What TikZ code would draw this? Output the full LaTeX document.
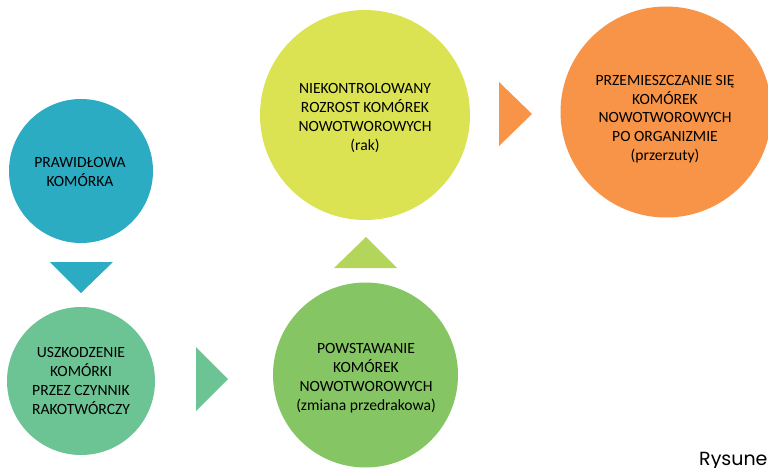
\documentclass[tikz,border=0pt]{standalone}
\usepackage{fontspec}
\setmainfont{Carlito}
\newfontfamily\rysfont{Poppins}
\usepackage{tikz}
\usetikzlibrary{positioning}
\definecolor{raTeal}{HTML}{2BACC2}
\definecolor{raMint}{HTML}{6CC494}
\definecolor{raLime}{HTML}{DCE352}
\definecolor{raOrange}{HTML}{F79447}
\definecolor{raGreen}{HTML}{85C563}
\definecolor{raLimeTri}{HTML}{B4D55B}

\begin{document}
\begin{tikzpicture}[x=1pt, y=-1pt,
  cell/.style={circle, inner sep=0pt},
  txt/.style={align=center, inner sep=0pt, font=\fontsize{15.6}{18.8}\selectfont}]
  \clip (0,0) rectangle (768,468);
  % kola
  \node[cell, fill=raTeal, minimum size=144pt] (prawid) at (81,171) {};
  \node[cell, fill=raMint, minimum size=148pt] (uszk) at (81,381) {};
  \node[cell, fill=raGreen, minimum size=185pt] (powst) at (365.5,375) {};
  \node[cell, fill=raLime, minimum size=210pt] (rak) at (365,115) {};
  \node[cell, fill=raOrange, minimum size=211pt] (przerz) at (666,112) {};
  % teksty
  \node[txt] (prawidT) at (80,172) {PRAWIDŁOWA\\KOMÓRKA};
  \node[txt] (uszkT) at (81,381) {USZKODZENIE\\KOMÓRKI\\PRZEZ CZYNNIK\\RAKOTWÓRCZY};
  \node[txt] (powstT) at (366,378) {POWSTAWANIE\\KOMÓREK\\NOWOTWOROWYCH\\(zmiana przedrakowa)};
  \node[txt] (rakT) at (365,118) {NIEKONTROLOWANY\\ROZROST KOMÓREK\\NOWOTWOROWYCH\\(rak)};
  \node[txt] (przerzT) at (665,119) {PRZEMIESZCZANIE SIĘ\\KOMÓREK\\NOWOTWOROWYCH\\PO ORGANIZMIE\\(przerzuty)};
  % strzalki
  \fill[raTeal] (50,262) -- (113,262) -- (81,293) -- cycle;
  \fill[raMint] (196,347) -- (196,411) -- (228,379) -- cycle;
  \fill[raLimeTri] (334,268) -- (397,268) -- (366,237) -- cycle;
  \fill[raOrange] (499,82) -- (499,146) -- (532,114) -- cycle;
  \node[anchor=base west, inner sep=0pt, font=\rysfont\fontsize{19}{19}\selectfont] (rys) at (699,465) {Rysunek};
\end{tikzpicture}
\end{document}
